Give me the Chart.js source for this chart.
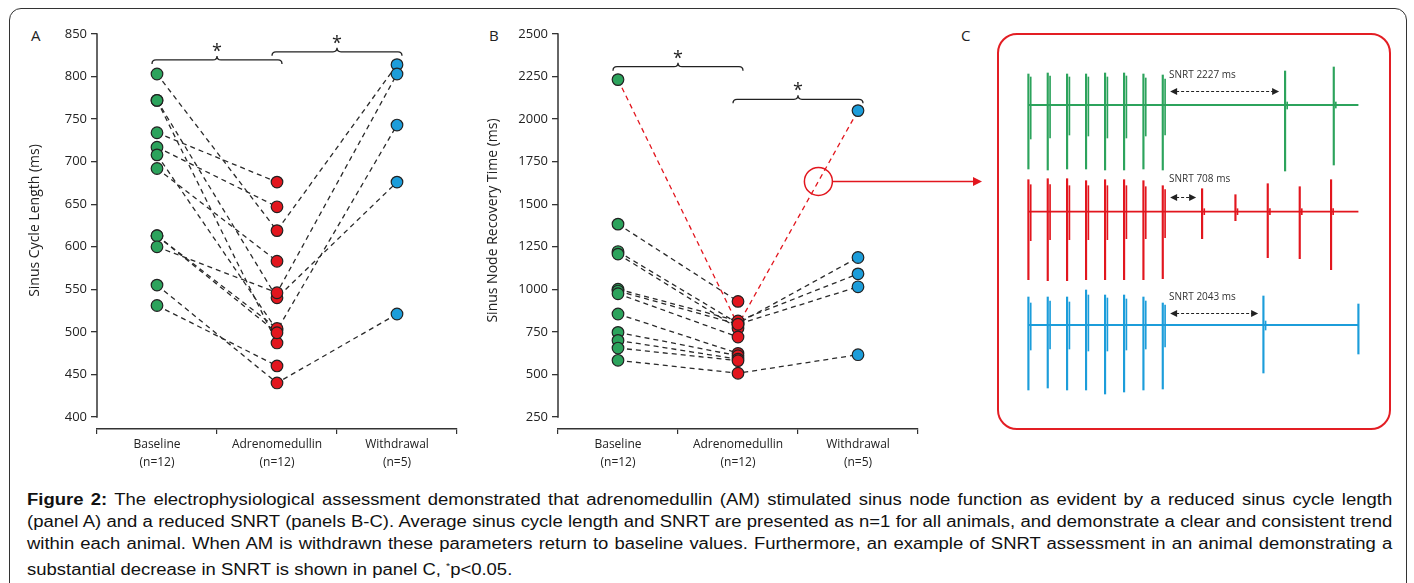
<!DOCTYPE html>
<html>
<head>
<meta charset="utf-8">
<script src="https://cdn.jsdelivr.net/npm/chart.js@4/dist/chart.umd.min.js"></script>
<style>
  body { margin: 0; background: #fff; width: 1414px; height: 583px; overflow: hidden; position: relative; font-family: "Open Sans", sans-serif; }
  canvas { position: absolute; }
  #frame { position: absolute; left: 9px; top: 8px; width: 1396px; height: 620px; border: 1.5px solid #333; border-radius: 12px; }
  #boxC { position: absolute; left: 997px; top: 33px; width: 390px; height: 393px; border: 2px solid #e31e24; border-radius: 20px; }
  .plabel { position: absolute; font-size: 15px; color: #222; line-height: 16px; }
  #caption { position: absolute; left: 27px; top: 489px; width: 1183px; transform: scaleX(1.154); transform-origin: 0 0;
             font-family: "Liberation Sans", Arial, sans-serif; font-size: 16px; line-height: 22px; color: #111; }
  #caption div { text-align: justify; text-align-last: justify; white-space: nowrap; }
  #caption div.last { text-align-last: left; }
  #caption sup { font-size: 9px; vertical-align: 6px; }
</style>
</head>
<body>
<div id="frame"></div>
<div id="boxC"></div>
<div class="plabel" style="left:31px;top:27px;">A</div>
<div class="plabel" style="left:489px;top:27px;">B</div>
<div class="plabel" style="left:961px;top:27px;">C</div>

<canvas id="chartA" width="470" height="480" style="left:0;top:0;"></canvas>
<canvas id="chartB" width="530" height="480" style="left:470px;top:0;"></canvas>
<canvas id="ecgGreen" width="340" height="116" style="left:1023px;top:62px;"></canvas>
<canvas id="ecgRed" width="340" height="115" style="left:1023px;top:170px;"></canvas>
<canvas id="ecgBlue" width="340" height="112" style="left:1023px;top:288px;"></canvas>

<div id="caption">
  <div><b>Figure 2:</b> The electrophysiological assessment demonstrated that adrenomedullin (AM) stimulated sinus node function as evident by a reduced sinus cycle length</div>
  <div>(panel A) and a reduced SNRT (panels B-C). Average sinus cycle length and SNRT are presented as n=1 for all animals, and demonstrate a clear and consistent trend</div>
  <div>within each animal. When AM is withdrawn these parameters return to baseline values. Furthermore, an example of SNRT assessment in an animal demonstrating a</div>
  <div class="last">substantial decrease in SNRT is shown in panel C, <sup>*</sup>p&lt;0.05.</div>
</div>

<script>
"use strict";

// Groups on the x axis
var groups = ['Baseline', 'Adrenomedullin', 'Withdrawal'];
var groupN = ['(n=12)', '(n=12)', '(n=5)'];

// Panel A - sinus cycle length (ms), one entry per animal
var slBaseline    = [803, 772, 772, 734, 717, 708, 692, 613, 613, 600, 555, 531];
var slAdreno      = [619, 540, 487, 676, 647, 502, 583, 504, 499, 546, 440, 460];
var slWithdrawal  = [814, 676, null, null, null, 743, null, null, null, 803, 521, null];
var yTicksA = [400, 450, 500, 550, 600, 650, 700, 750, 800, 850];

// Panel B - sinus node recovery time (ms), one entry per animal
var snrtBaseline   = [2232, 1383, 1222, 1207, 1001, 990, 974, 855, 747, 700, 655, 583];
var snrtAdreno     = [790, 929, 800, 771, 814, 795, 720, 624, 610, 590, 581, 507];
var snrtWithdrawal = [2050, null, 1187, null, 1091, 1015, null, null, null, null, null, 616];
var yTicksB = [250, 500, 750, 1000, 1250, 1500, 1750, 2000, 2250, 2500];
var highlightRow = 0; // animal shown in panel C

// Panel C - ECG deflections: time (ms), height above / depth below baseline (a.u.)
var ecgEnd = 6108;
var greenT      = [0, 358, 716, 1067, 1419, 1771, 2129, 2487, 4751, 5652];
var greenTop    = [31, 32, 31, 31, 32, 32, 31, 30, 34, 38];
var greenBottom = [64, 65, 64, 64, 65, 65, 64, 65, 66, 60];
var greenEchoT      = [43, 401, 759, 1110, 1462, 1814, 2172, 2530, 4790, 5690];
var greenEchoTop    = [28, 29, 28, 28, 28, 29, 27, 26, 3, 3];
var greenEchoBottom = [34, 33, 30, 31, 33, 33, 31, 30, 4, 3];
var redT      = [0, 358, 716, 1067, 1419, 1771, 2129, 2487, 3215, 3832, 4430, 5022, 5602];
var redTop    = [32, 33, 33, 31, 32, 32, 31, 26, 23, 17, 28, 25, 32];
var redBottom = [68, 69, 69, 68, 68, 68, 68, 67, 27, 9, 46, 47, 58];
var redEchoT      = [43, 401, 759, 1110, 1462, 1814, 2172, 2530, 3255, 3870, 4470, 5060, 5640];
var redEchoTop    = [27, 27, 26, 26, 26, 26, 25, 22, 3, 3, 3, 3, 3];
var redEchoBottom = [29, 28, 28, 28, 28, 27, 27, 26, 3, 3, 3, 3, 3];
var blueT      = [0, 358, 716, 1067, 1419, 1771, 2129, 2487, 4350, 6108];
var blueTop    = [28, 28, 28, 35, 30, 30, 28, 22, 29, 21];
var blueBottom = [65, 63, 65, 65, 69, 67, 65, 64, 48, 29];
var blueEchoT      = [43, 401, 759, 1110, 1462, 1814, 2172, 2530, 4390];
var blueEchoTop    = [22, 24, 23, 30, 27, 26, 24, 20, 4];
var blueEchoBottom = [25, 24, 24, 26, 26, 25, 24, 22, 5];

var GREEN = '#2ca35c', RED = '#e2161e', BLUE = '#1c9dda', INK = '#222';

// Draws the y spine only between first and last tick (axes are detached),
// and the axis title centred on that spine
var spinePlugin = {
    id: 'spine',
    afterDraw: function (chart, args, opts) {
        var y = chart.scales.y, ctx = chart.ctx;
        var yTop = y.getPixelForValue(opts.top), yBot = y.getPixelForValue(opts.bottom);
        ctx.save();
        ctx.strokeStyle = '#333';
        ctx.lineWidth = 1.5;
        ctx.beginPath();
        ctx.moveTo(y.right, yTop - 0.75);
        ctx.lineTo(y.right, yBot + 0.75);
        ctx.stroke();
        ctx.translate(opts.titleX, (yTop + yBot) / 2 - 5);
        ctx.rotate(-Math.PI / 2);
        ctx.fillStyle = INK;
        ctx.font = '14px "Open Sans"';
        ctx.textAlign = 'center';
        ctx.textBaseline = 'middle';
        ctx.fillText(opts.title, 0, 0);
        ctx.restore();
    }
};

// Curly significance brackets with a star
var bracketPlugin = {
    id: 'brackets',
    afterDatasetsDraw: function (chart, args, opts) {
        var ctx = chart.ctx, x = chart.scales.x, y = chart.scales.y;
        ctx.save();
        ctx.strokeStyle = INK;
        ctx.fillStyle = INK;
        ctx.lineWidth = 1.3;
        opts.items.forEach(function (b) {
            var x1 = x.getPixelForValue(b.from) - 5;
            var x2 = x.getPixelForValue(b.to) + 5;
            var yy = y.getPixelForValue(b.level);
            var xm = (x1 + x2) / 2, h = 4;
            ctx.beginPath();
            ctx.moveTo(x1, yy + h);
            ctx.quadraticCurveTo(x1, yy, x1 + h, yy);
            ctx.lineTo(xm - h, yy);
            ctx.quadraticCurveTo(xm, yy, xm, yy - h);
            ctx.quadraticCurveTo(xm, yy, xm + h, yy);
            ctx.lineTo(x2 - h, yy);
            ctx.quadraticCurveTo(x2, yy, x2, yy + h);
            ctx.stroke();
            ctx.font = '18px "Open Sans"';
            ctx.textAlign = 'center';
            ctx.textBaseline = 'alphabetic';
            ctx.fillText('*', xm, yy - 3);
        });
        ctx.restore();
    }
};

// Red circle on the highlighted line with an arrow to panel C
var calloutPlugin = {
    id: 'callout',
    afterDatasetsDraw: function (chart, args, opts) {
        if (!opts.show) { return; }
        var ctx = chart.ctx, x = chart.scales.x, y = chart.scales.y;
        var xa = x.getPixelForValue(1), xb = x.getPixelForValue(2);
        var ya = y.getPixelForValue(snrtAdreno[highlightRow]);
        var yb = y.getPixelForValue(snrtWithdrawal[highlightRow]);
        var cx = xa + opts.frac * (xb - xa), cy = ya + opts.frac * (yb - ya);
        ctx.save();
        ctx.strokeStyle = RED;
        ctx.fillStyle = RED;
        ctx.lineWidth = 1.5;
        ctx.beginPath();
        ctx.arc(cx, cy, opts.r, 0, Math.PI * 2);
        ctx.stroke();
        ctx.beginPath();
        ctx.moveTo(cx + opts.r, cy);
        ctx.lineTo(opts.tipX - 8, cy);
        ctx.stroke();
        ctx.beginPath();
        ctx.moveTo(opts.tipX, cy);
        ctx.lineTo(opts.tipX - 9, cy - 4.5);
        ctx.lineTo(opts.tipX - 9, cy + 4.5);
        ctx.closePath();
        ctx.fill();
        ctx.restore();
    }
};

function pairedChart(canvasId, base, adreno, withdr, ticks, yMin, title, titleX, yWidth, pad, brackets, callout) {
    var datasets = [];
    base.forEach(function (b, i) {
        var hl = callout && i === highlightRow;
        datasets.push({
            type: 'line',
            data: [b, adreno[i], withdr[i]],
            borderColor: hl ? RED : '#2a2a2a',
            borderWidth: 1.3,
            borderDash: [5, 4],
            pointRadius: 0,
            spanGaps: false,
            order: 2
        });
    });
    var cols = [base, adreno, withdr];
    var fills = [GREEN, RED, BLUE];
    cols.forEach(function (col, c) {
        datasets.push({
            type: 'line',
            showLine: false,
            data: col.filter(function (v) { return v !== null; })
                     .map(function (v) { return { x: groups[c], y: v }; }),
            pointRadius: 5.8,
            pointBorderWidth: 1.2,
            pointBackgroundColor: fills[c],
            pointBorderColor: INK,
            order: 1
        });
    });

    var config = {
        type: 'line',
        data: { labels: groups, datasets: datasets },
        options: {
            responsive: false,
            animation: false,
            devicePixelRatio: 1,
            layout: { padding: pad },
            scales: {
                x: {
                    offset: true,
                    grid: {
                        offset: true,
                        drawOnChartArea: false,
                        drawTicks: true,
                        tickLength: 5,
                        color: '#333',
                        lineWidth: 1.2
                    },
                    border: { display: true, color: '#333', width: 1.5 },
                    ticks: {
                        padding: 2,
                        color: INK,
                        font: { family: 'Open Sans', size: 12, lineHeight: 1.45 },
                        maxRotation: 0,
                        callback: function (value, index) { return [groups[index], groupN[index]]; }
                    },
                    afterFit: function (scale) { scale.height = 40; }
                },
                y: {
                    min: yMin,
                    max: ticks[ticks.length - 1],
                    afterBuildTicks: function (axis) {
                        axis.ticks = ticks.map(function (v) { return { value: v }; });
                    },
                    grid: {
                        drawOnChartArea: false,
                        drawTicks: true,
                        tickLength: 6,
                        color: '#333',
                        lineWidth: 1.3
                    },
                    border: { display: false },
                    ticks: {
                        padding: 4,
                        color: INK,
                        font: { family: 'Open Sans', size: 13 },
                        callback: function (value) { return String(value); }
                    },
                    afterFit: function (scale) { scale.width = yWidth; }
                }
            },
            plugins: {
                legend: { display: false },
                tooltip: { enabled: false },
                spine: { top: ticks[ticks.length - 1], bottom: ticks[0], title: title, titleX: titleX },
                brackets: { items: brackets },
                callout: callout || { show: false }
            }
        },
        plugins: [spinePlugin, bracketPlugin, calloutPlugin]
    };
    return new Chart(document.getElementById(canvasId).getContext('2d'), config);
}

// Panel A
pairedChart('chartA', slBaseline, slAdreno, slWithdrawal, yTicksA, 385.9,
    'Sinus Cycle Length (ms)', 35, 70, { top: 34, left: 27, right: 13, bottom: 11 },
    [{ from: 0, to: 1, level: 819.5 }, { from: 1, to: 2, level: 829 }], null);

// Panel B
pairedChart('chartB', snrtBaseline, snrtAdreno, snrtWithdrawal, yTicksB, 179.5,
    'Sinus Node Recovery Time (ms)', 23, 74, { top: 34, left: 14, right: 82, bottom: 11 },
    [{ from: 0, to: 1, level: 2308 }, { from: 1, to: 2, level: 2116 }],
    { show: true, frac: 0.67, r: 14, tipX: 512 });

// SNRT label and dashed double arrow over a trace
var snrtPlugin = {
    id: 'snrt',
    afterDraw: function (chart, args, opts) {
        var ctx = chart.ctx, x = chart.scales.x, y = chart.scales.y;
        var x0 = x.getPixelForValue(opts.from), x1 = x.getPixelForValue(opts.to);
        var yy = Math.round(y.getPixelForValue(opts.arrowY)) + 0.5;
        ctx.save();
        ctx.fillStyle = '#333';
        ctx.font = '10px "Open Sans"';
        ctx.textBaseline = 'middle';
        ctx.fillText(opts.text, x.getPixelForValue(opts.textT), y.getPixelForValue(opts.textY));
        ctx.strokeStyle = INK;
        ctx.fillStyle = INK;
        ctx.lineWidth = 1;
        ctx.setLineDash([3, 2]);
        ctx.beginPath();
        ctx.moveTo(x0 + 6, yy);
        ctx.lineTo(x1 - 6, yy);
        ctx.stroke();
        ctx.setLineDash([]);
        [[x0, 1], [x1, -1]].forEach(function (p) {
            ctx.beginPath();
            ctx.moveTo(p[0], yy);
            ctx.lineTo(p[0] + 7 * p[1], yy - 3.5);
            ctx.lineTo(p[0] + 7 * p[1], yy + 3.5);
            ctx.closePath();
            ctx.fill();
        });
        ctx.restore();
    }
};

function deflections(times, tops, bottoms) {
    return times.map(function (t, i) { return { x: t, y: [-bottoms[i], tops[i]] }; });
}

function ecgChart(canvasId, spikes, echoes, color, yMax, yMin, snrt) {
    var config = {
        type: 'bar',
        data: {
            datasets: [{
                type: 'bar',
                data: spikes,
                backgroundColor: color,
                barThickness: 1.5,
                grouped: false
            }, {
                type: 'bar',
                data: echoes,
                backgroundColor: color,
                barThickness: 1,
                grouped: false
            }, {
                type: 'line',
                data: [{ x: 0, y: 0 }, { x: ecgEnd, y: 0 }],
                borderColor: color,
                borderWidth: 1.8,
                pointRadius: 0
            }]
        },
        options: {
            responsive: false,
            animation: false,
            devicePixelRatio: 1,
            layout: { padding: 0 },
            scales: {
                x: { type: 'linear', min: -100, max: 6193, offset: false, display: false },
                y: { min: yMin, max: yMax, display: false }
            },
            plugins: {
                legend: { display: false },
                tooltip: { enabled: false },
                snrt: snrt
            }
        },
        plugins: [snrtPlugin]
    };
    return new Chart(document.getElementById(canvasId).getContext('2d'), config);
}

ecgChart('ecgGreen', deflections(greenT, greenTop, greenBottom),
    deflections(greenEchoT, greenEchoTop, greenEchoBottom), GREEN, 43, -73,
    { text: 'SNRT 2227 ms', textT: 2604, textY: 30, from: 2623, to: 4640, arrowY: 14.3 });
ecgChart('ecgRed', deflections(redT, redTop, redBottom),
    deflections(redEchoT, redEchoTop, redEchoBottom), RED, 41.7, -73.3,
    { text: 'SNRT 708 ms', textT: 2604, textY: 32.7, from: 2623, to: 3104, arrowY: 14.7 });
ecgChart('ecgBlue', deflections(blueT, blueTop, blueBottom),
    deflections(blueEchoT, blueEchoTop, blueEchoBottom), BLUE, 37, -75,
    { text: 'SNRT 2043 ms', textT: 2604, textY: 28, from: 2623, to: 4252, arrowY: 12.3 });
</script>
</body>
</html>
